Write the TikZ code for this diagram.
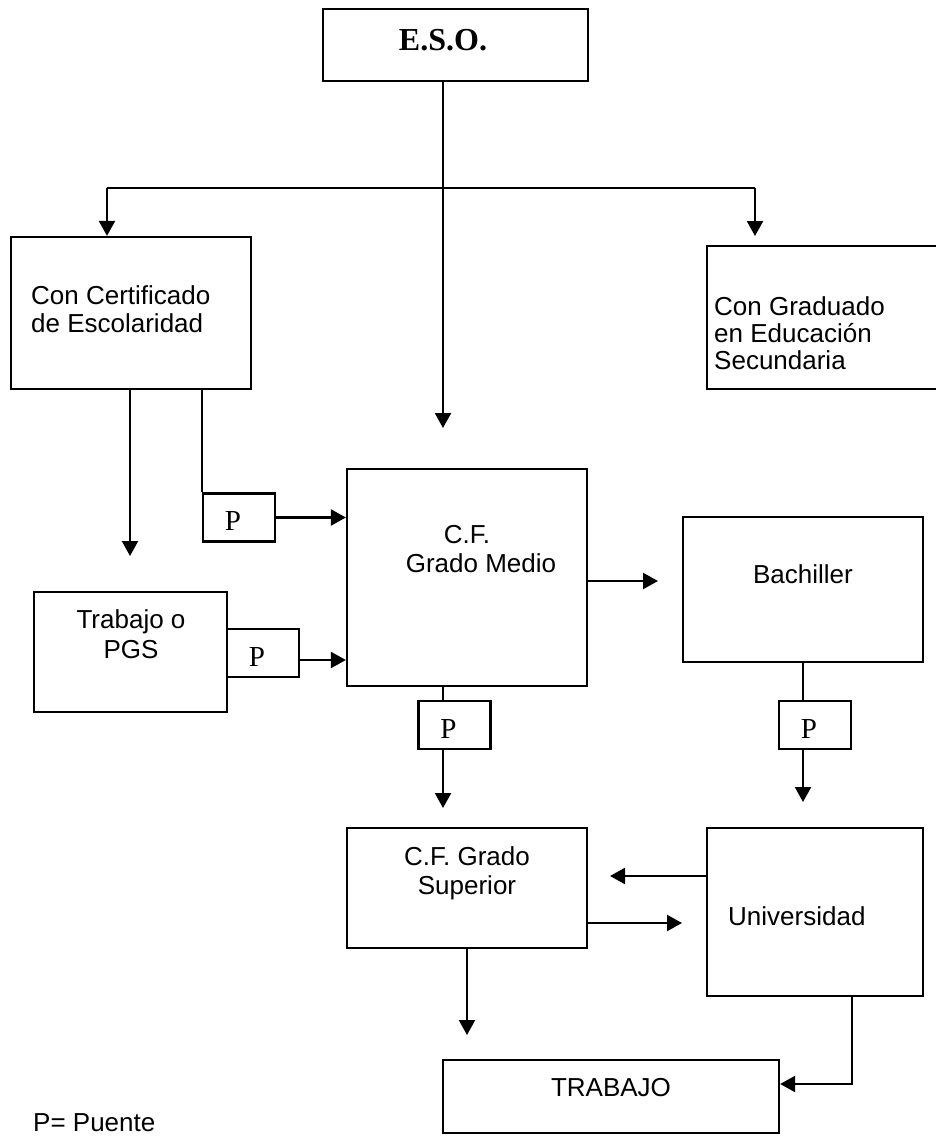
\documentclass[tikz,border=0pt]{standalone}
\usepackage{fontspec}
\setmainfont{Liberation Sans}
\newfontfamily\serifface{Liberation Serif}
\usetikzlibrary{arrows.meta,calc}
\begin{document}
\begin{tikzpicture}[x=1pt,y=-1pt,
  frame/.style={draw=black, line width=2.2pt, inner sep=0pt, fill=white},
  pbox/.style={frame, minimum width=72, minimum height=48},
  lbl/.style={inner sep=0pt, anchor=base, font=\fontsize{26}{29}\selectfont},
  lblw/.style={lbl, anchor=base west},
  ptxt/.style={inner sep=0pt, anchor=base, font=\serifface\fontsize{29}{32}\selectfont},
  wire/.style={line width=2.2pt},
  arr/.style={wire, -{Triangle[length=15pt,width=16pt]}}]

% page
\path[fill=white, use as bounding box] (0,0) rectangle (936,1137);

% boxes
\node[frame, minimum width=265, minimum height=72] (eso) at (455.5,45) {};
\node[frame, minimum width=240, minimum height=152] (cert) at (131,313) {};
\node[frame, minimum width=240, minimum height=143] (grad) at (827,317.5) {};
\node[frame, minimum width=240, minimum height=217] (cfgm) at (467,577.5) {};
\node[frame, minimum width=193, minimum height=120] (trab) at (130.5,652) {};
\node[frame, minimum width=240, minimum height=145] (bach) at (803,589.5) {};
\node[frame, minimum width=240, minimum height=120] (cfgs) at (467,888) {};
\node[frame, minimum width=216, minimum height=168] (univ) at (815,912) {};
\node[frame, minimum width=336, minimum height=73] (trabajo) at (611,1096.5) {};

% bridge boxes
\node[pbox] (p1) at (239,517.5) {};
\node[pbox] (p2) at (263,653) {};
\node[pbox] (p3) at (454.5,725) {};
\node[pbox] (p4) at (815,725) {};

% texts
\node[inner sep=0pt, anchor=base, font=\serifface\bfseries\fontsize{32}{36}\selectfont] (eso-t) at (443,51) {E.S.O.};
\node[lblw] (cert-t1) at (31,304) {Con Certificado};
\node[lblw] (cert-t2) at (31,332) {de Escolaridad};
\node[lblw] (grad-t1) at (714,315) {Con Graduado};
\node[lblw] (grad-t2) at (714,342) {en Educación};
\node[lblw] (grad-t3) at (714,369) {Secundaria};
\node[lbl] (cfgm-t1) at (467,543) {C.F.};
\node[lbl] (cfgm-t2) at (481,572) {Grado Medio};
\node[lbl] (trab-t1) at (131,628) {Trabajo o};
\node[lbl] (trab-t2) at (131,658) {PGS};
\node[lbl] (bach-t) at (803,583) {Bachiller};
\node[lbl] (cfgs-t1) at (467,865) {C.F. Grado};
\node[lbl] (cfgs-t2) at (467,894) {Superior};
\node[lblw] (univ-t) at (728,925) {Universidad};
\node[lbl] (trabajo-t) at (611,1096) {TRABAJO};
\node[lblw] (legend) at (33,1131) {P= Puente};

\foreach \p in {p1,p2,p3,p4}
  \node[ptxt] (\p-t) at ($(\p.center)+(-6,13)$) {P};

% free ends of connectors
\coordinate (eso-end) at (443,428);
\coordinate (barL) at (107,188);
\coordinate (barR) at (755,188);
\coordinate (grad-in) at (755,236);
\coordinate (cert-down) at (130,556);
\coordinate (p2-out) at (299,660);
\coordinate (gm-out) at (658,581);
\coordinate (p3-end) at (443,808);
\coordinate (p4-end) at (803,802);
\coordinate (u-l) at (610,876);
\coordinate (s-r) at (682,923);
\coordinate (s-d) at (467,1035);
\coordinate (u-d) at (852,1084);

% connectors
\draw[arr] (eso.south -| eso-end) -- (eso-end);
\draw[wire] (barL) -- (barR);
\draw[arr] (barL) -- (barL |- cert.north);
\draw[arr] (barR) -- (grad-in);
\draw[arr] (cert.south -| cert-down) -- (cert-down);
\draw[wire] (cert.south -| p1.west) -- (p1.north west);
\draw[arr] (p1.east) -- (p1.east -| cfgm.west);
\draw[arr] (p2-out) -- (p2-out -| cfgm.west);
\draw[arr] (gm-out -| cfgm.east) -- (gm-out);
\draw[wire] (cfgm.south -| eso-end) -- (p3.north -| eso-end);
\draw[arr] (p3.south -| p3-end) -- (p3-end);
\draw[wire] (bach.south) -- (bach.south |- p4.north);
\draw[arr] (p4.south -| p4-end) -- (p4-end);
\draw[arr] (u-l -| univ.west) -- (u-l);
\draw[arr] (s-r -| cfgs.east) -- (s-r);
\draw[arr] (cfgs.south) -- (s-d);
\draw[arr] (univ.south -| u-d) -- (u-d) -- (u-d -| trabajo.east);
\end{tikzpicture}
\end{document}
